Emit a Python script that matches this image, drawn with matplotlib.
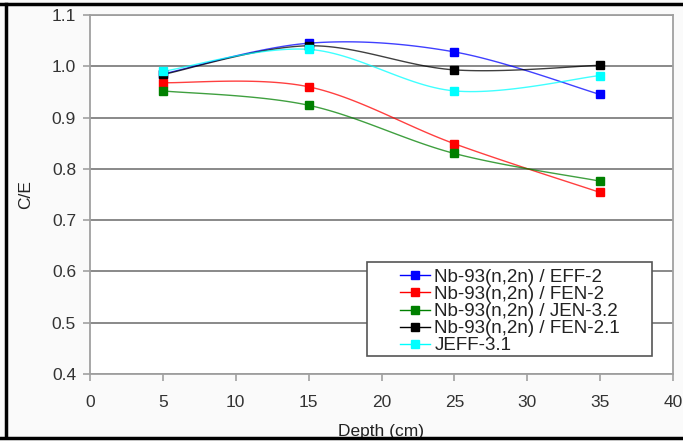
import matplotlib
matplotlib.use("Agg")
import matplotlib.pyplot as plt
from matplotlib.lines import Line2D
from matplotlib.patches import Rectangle
import numpy as np

plt.rcParams['font.family'] = ['Liberation Sans', 'DejaVu Sans']

# Data
depth = [5, 15, 25, 35]
eff2 = [0.985, 1.045, 1.028, 0.945]
fen2 = [0.968, 0.960, 0.849, 0.754]
jen32 = [0.952, 0.924, 0.830, 0.776]
fen21 = [0.984, 1.040, 0.993, 1.002]
jeff31 = [0.990, 1.033, 0.952, 0.982]

labels = ["Nb-93(n,2n) / EFF-2", "Nb-93(n,2n) / FEN-2", "Nb-93(n,2n) / JEN-3.2",
          "Nb-93(n,2n) / FEN-2.1", "JEFF-3.1"]
colors = ["#0000ff", "#ff0000", "#008000", "#000000", "#00ffff"]
x_ticks = [0, 5, 10, 15, 20, 25, 30, 35, 40]
y_ticks = [0.4, 0.5, 0.6, 0.7, 0.8, 0.9, 1.0, 1.1]


# Excel style smoothed line (bezier through the points)
def smooth(x, y, n=30):
    x = np.asarray(x, float)
    y = np.asarray(y, float)
    px = np.concatenate([[x[0]], x, [x[-1]]])
    py = np.concatenate([[y[0]], y, [y[-1]]])
    t = np.linspace(0, 1, n)
    xs, ys = [], []
    for i in range(1, len(px) - 2):
        p0 = np.array([px[i], py[i]])
        p3 = np.array([px[i + 1], py[i + 1]])
        c1 = p0 + (np.array([px[i + 1], py[i + 1]]) - np.array([px[i - 1], py[i - 1]])) / 6
        c2 = p3 - (np.array([px[i + 2], py[i + 2]]) - np.array([px[i], py[i]])) / 6
        b = ((1 - t) ** 3)[:, None] * p0 + (3 * (1 - t) ** 2 * t)[:, None] * c1 \
            + (3 * (1 - t) * t ** 2)[:, None] * c2 + (t ** 3)[:, None] * p3
        xs.extend(b[:, 0])
        ys.extend(b[:, 1])
    return xs, ys


fig = plt.figure(figsize=(6.83, 4.43), dpi=100)
fig.patch.set_facecolor('#fafafa')
ax = fig.add_axes([90 / 683, 69 / 443, 583 / 683, 359 / 443])

series = [eff2, fen2, jen32, fen21, jeff31]
handles = []
for vals, c, lab in zip(series, colors, labels):
    sx, sy = smooth(depth, vals)
    ax.plot(sx, sy, color=c, lw=1.0, alpha=0.75)
    ax.plot(depth, vals, 's', color=c, ms=5.5, zorder=5)
    handles.append(Line2D([], [], color=c, lw=1.0, marker='s', ms=5.5))

ax.set_xlim(0, 40)
ax.set_ylim(0.4, 1.1)
ax.set_xticks(x_ticks)
ax.set_yticks(y_ticks)
ax.set_yticklabels([f"{v:.1f}" for v in y_ticks])
ax.yaxis.grid(True, color='#808080', lw=1.3)
ax.set_axisbelow(True)
for s in ax.spines.values():
    s.set_color('#a0a0a0')
    s.set_linewidth(1.3)
ax.tick_params(colors='#a0a0a0', labelcolor='#333333', labelsize=12.5, length=5, width=1.2)
ax.tick_params(axis='x', pad=10)
ax.tick_params(axis='y', pad=5)

ax.set_ylabel("C/E", fontsize=12.5, color='#222222')
ax.yaxis.set_label_coords(-0.098, 0.5)
ax.set_xlabel("Depth (cm)", fontsize=12.5, color='#222222')
ax.xaxis.set_label_coords(0.5, -0.138)

# legend box
ax.add_patch(Rectangle((0.475, 0.05), 0.489, 0.262, transform=ax.transAxes,
                       facecolor='white', edgecolor='#555555', lw=1.2, zorder=6))
leg = ax.legend(handles, labels, loc='center', bbox_to_anchor=(0.72, 0.174),
                frameon=False, fontsize=13.5, labelspacing=0.0, handlelength=1.6,
                handletextpad=0.25, borderpad=0)
leg.set_zorder(7)
for t in leg.get_texts():
    t.set_color('#222222')

# outer black frame
fig.add_artist(Line2D([0, 1], [1 - 4 / 443, 1 - 4 / 443], color='black', lw=2.5))
fig.add_artist(Line2D([6 / 683, 6 / 683], [5 / 443, 1 - 4 / 443], color='black', lw=2.5))
fig.add_artist(Line2D([0, 1], [5 / 443, 5 / 443], color='black', lw=2.5, zorder=10))
fig.patches.append(Rectangle((0, 0), 1, 4 / 443, transform=fig.transFigure,
                             facecolor='white', edgecolor='none', zorder=9))

fig.savefig("out.png", dpi=100, facecolor=fig.get_facecolor())
